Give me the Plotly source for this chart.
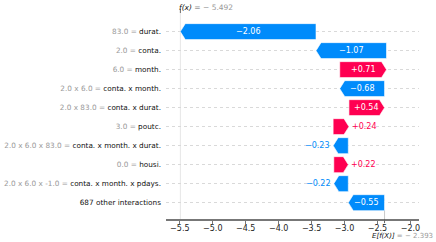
import plotly.graph_objects as go

# ---- data ----
feature_values = ["83.0", "2.0", "6.0", "2.0 x 6.0", "2.0 x 83.0", "3.0",
                  "2.0 x 6.0 x 83.0", "0.0", "2.0 x 6.0 x -1.0", ""]
feature_names = ["durat.", "conta.", "month.", "conta. x month.", "conta. x durat.",
                 "poutc.", "conta. x month. x durat.", "housi.",
                 "conta. x month. x pdays.", "687 other interactions"]
shap_values = [-2.06, -1.07, 0.71, -0.68, 0.54, 0.24, -0.23, 0.22, -0.22, -0.55]
base_value = -2.393
fx_value = -5.492
x_ticks = [-5.5, -5.0, -4.5, -4.0, -3.5, -3.0, -2.5, -2.0]

BLUE = "#008bfb"
RED = "#ff0051"
FONT = "DejaVu Sans"

n = len(shap_values)
x_range = [-5.71, -1.87]
plot_w_px = 436 - 166 - 17
px_per_unit = plot_w_px / (x_range[1] - x_range[0])

# cumulative starts, from the bottom row upwards
starts = [0.0] * n
cur = base_value
for i in range(n - 1, -1, -1):
    starts[i] = cur
    cur += shap_values[i]

fig = go.Figure()
half = 0.42
hl_units = 5.0 / px_per_unit
annotations = []
for i, v in enumerate(shap_values):
    s = starts[i]
    e = s + v
    hl = min(hl_units, abs(v))
    sign = 1 if v > 0 else -1
    xs = [s, e - sign * hl, e, e - sign * hl, s, s]
    ys = [i - half, i - half, i, i + half, i + half, i - half]
    col = RED if v > 0 else BLUE
    fig.add_trace(go.Scatter(x=xs, y=ys, fill="toself", fillcolor=col, mode="lines",
                             line=dict(color="white", width=0.6), hoverinfo="skip",
                             showlegend=False))
    label = ("+" if v > 0 else "\u2212") + f"{abs(v):.2f}"
    width_px = abs(v) * px_per_unit
    if width_px > 28:
        annotations.append(dict(x=(s + e) / 2, y=i, text=label, showarrow=False,
                                font=dict(color="white", size=8, family=FONT),
                                xanchor="center", yanchor="middle"))
    else:
        annotations.append(dict(x=e, y=i, text=label, showarrow=False,
                                font=dict(color=col, size=8, family=FONT),
                                xanchor="left" if v > 0 else "right",
                                xshift=1 if v > 0 else -1, yanchor="middle"))

ticktext = []
for fv, fn in zip(feature_values, feature_names):
    if fv:
        ticktext.append(f"<span style='color:#999999'>{fv} = </span>{fn}")
    else:
        ticktext.append(fn)

annotations.append(dict(x=fx_value, y=1, yref="paper", yshift=6,
                        text="<i>f(x)</i><span style='color:#999999'> = \u2212 "
                             + f"{abs(fx_value):.3f}</span>",
                        showarrow=False, xanchor="left", yanchor="middle", xshift=-3,
                        font=dict(size=7.5, family=FONT, color="#111111")))
annotations.append(dict(x=base_value, y=0, yref="paper", yshift=-17,
                        text="<i>E[f(X)]</i><span style='color:#999999'> = \u2212 "
                             + f"{abs(base_value):.3f}</span>",
                        showarrow=False, xanchor="left", yanchor="middle", xshift=-15,
                        font=dict(size=7, family=FONT, color="#111111")))

shapes = [
    dict(type="line", xref="x", yref="paper", x0=fx_value, x1=fx_value, y0=0, y1=1,
         line=dict(color="#e6e6e6", width=1), layer="below"),
    dict(type="line", xref="x", yref="paper", x0=fx_value, x1=fx_value, y0=1, y1=1.02,
         line=dict(color="#666666", width=1)),
    dict(type="line", xref="x", yref="paper", x0=base_value, x1=base_value, y0=0, y1=0.1,
         line=dict(color="#bbbbbb", width=0.8, dash="dash"), layer="below"),
    dict(type="line", xref="x", yref="paper", x0=base_value, x1=base_value, y0=0, y1=-0.02,
         line=dict(color="#666666", width=1)),
]

fig.update_layout(
    width=436, height=242,
    margin=dict(l=166, r=17, t=13, b=23),
    paper_bgcolor="white", plot_bgcolor="white",
    font=dict(family=FONT, size=7.5, color="#111111"),
    annotations=annotations, shapes=shapes,
    xaxis=dict(range=x_range, tickvals=x_ticks, automargin=False,
               ticktext=[f"\u2212{abs(t):.1f}" for t in x_ticks],
               showgrid=False, zeroline=False, showline=True, linecolor="#777777",
               linewidth=1.5, ticks="outside", ticklen=3, tickcolor="#777777",
               ticklabelstandoff=-2,
               tickfont=dict(size=8, family=FONT, color="#222222")),
    yaxis=dict(range=[n - 0.14, -0.98], tickvals=list(range(n)), ticktext=ticktext,
               automargin=False,
               showgrid=True, gridcolor="#d9d9d9", griddash="dot", gridwidth=0.8,
               zeroline=False, showline=False, ticks="", ticklabelstandoff=4,
               tickfont=dict(size=7.3, family=FONT, color="#111111")),
)

fig.write_html("out.html", config={"displayModeBar": False},
               post_script="document.body.style.margin='0px';")
